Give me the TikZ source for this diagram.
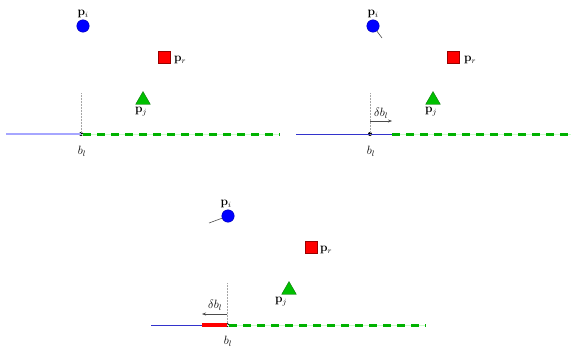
\documentclass[tikz,border=0pt]{standalone}
\usetikzlibrary{arrows.meta,shapes.geometric}
\begin{document}
\begin{tikzpicture}[x=1pt,y=-1pt,
  ptcirc/.style={circle,fill=blue,draw=blue!70!black,minimum size=12.5pt,inner sep=0pt},
  ptsq/.style={rectangle,fill=red,draw=red!60!black,line width=0.3pt,minimum size=12pt,inner sep=0pt},
  pttri/.style={regular polygon,regular polygon sides=3,fill=green!75!black,draw=green!40!black,line width=0.3pt,minimum size=17pt,inner sep=0pt},
  lbl/.style={inner sep=0pt,font=\fontsize{11.5}{13}\selectfont},
  bluefree/.style={blue!35,line width=1.2pt},
  bluefree2/.style={blue!60!gray,line width=0.6pt},
  greenbg/.style={green!20,line width=1pt},
  greendash/.style={green!70!black,line width=3pt,dash pattern=on 8pt off 6pt},
  redseg/.style={red,line width=3.2pt},
  guide/.style={gray!70,densely dotted,line width=0.5pt},
  dot/.style={circle,fill=black,minimum size=4pt,inner sep=0pt},
  motion/.style={gray!60!black,line width=0.6pt},
  dim/.style={gray!60!black,line width=0.5pt,-{Stealth[length=4pt,width=3pt]}}
]
\useasboundingbox (0,0) rectangle (580,353);
% ---------- panel 1 ----------
\node[ptcirc] (c1) at (83,26) {};
\node[lbl] (li1) at (83,14) {$\mathbf{p}_i$};
\node[ptsq] (s1) at (164,57) {};
\node[lbl,anchor=west] (lr1) at (174,60) {$\mathbf{p}_r$};
\node[pttri] (t1) at (143,100) {};
\node[lbl] (lj1) at (141,112) {$\mathbf{p}_j$};
\coordinate (a1) at (6,134);
\coordinate (e1) at (280,134);
\coordinate (v1) at (81,93);
\node[dot] (b1) at (81,134) {};
\draw[bluefree] (a1) -- (b1.center);
\draw[greenbg] (b1.center) -- (e1);
\draw[greendash] (b1.east) -- (e1);
\draw[guide] (v1) -- (b1.center);
\node[lbl] (bl1) at (82,151) {$b_l$};
% ---------- panel 2 ----------
\node[ptcirc] (c2) at (373,26) {};
\node[lbl] (li2) at (373,14) {$\mathbf{p}_i$};
\coordinate (m2) at (382,38);
\draw[motion] (c2) -- (m2);
\node[ptsq] (s2) at (453,57) {};
\node[lbl,anchor=west] (lr2) at (464,60) {$\mathbf{p}_r$};
\node[pttri] (t2) at (433,100) {};
\node[lbl] (lj2) at (431,112) {$\mathbf{p}_j$};
\coordinate (a2) at (296,134);
\coordinate (d2) at (392,134);
\coordinate (e2) at (571,134);
\coordinate (v2) at (370,93);
\node[dot] (b2) at (370,134) {};
\draw[bluefree2] (a2) -- (d2);
\draw[greenbg] (d2) -- (e2);
\draw[greendash] (d2) -- (e2);
\draw[guide] (v2) -- (b2.center);
\coordinate (p2a) at (370,121);
\coordinate (p2b) at (392,121);
\draw[dim] (p2a) -- (p2b);
\node[lbl] (db2) at (381,113) {$\delta b_l$};
\node[lbl] (bl2) at (371,151) {$b_l$};
% ---------- panel 3 ----------
\node[ptcirc] (c3) at (228,216) {};
\node[lbl] (li3) at (226,204) {$\mathbf{p}_i$};
\coordinate (m3) at (209,223);
\draw[motion] (c3) -- (m3);
\node[ptsq] (s3) at (311,247) {};
\node[lbl,anchor=west] (lr3) at (320,250) {$\mathbf{p}_r$};
\node[pttri] (t3) at (289,290) {};
\node[lbl] (lj3) at (281,302) {$\mathbf{p}_j$};
\coordinate (a3) at (151,325);
\coordinate (r3) at (202,325);
\coordinate (e3) at (426,325);
\coordinate (v3) at (227,283);
\node[dot] (b3) at (227,325) {};
\draw[bluefree2] (a3) -- (r3);
\draw[redseg] (r3) -- (b3.center);
\draw[greenbg] (b3.center) -- (e3);
\draw[greendash] (b3.east) -- (e3);
\draw[guide] (v3) -- (b3.center);
\coordinate (p3a) at (227,314);
\coordinate (p3b) at (202,314);
\draw[dim] (p3a) -- (p3b);
\node[lbl] (db3) at (215,305) {$\delta b_l$};
\node[lbl] (bl3) at (228,341) {$b_l$};
\end{tikzpicture}
\end{document}
